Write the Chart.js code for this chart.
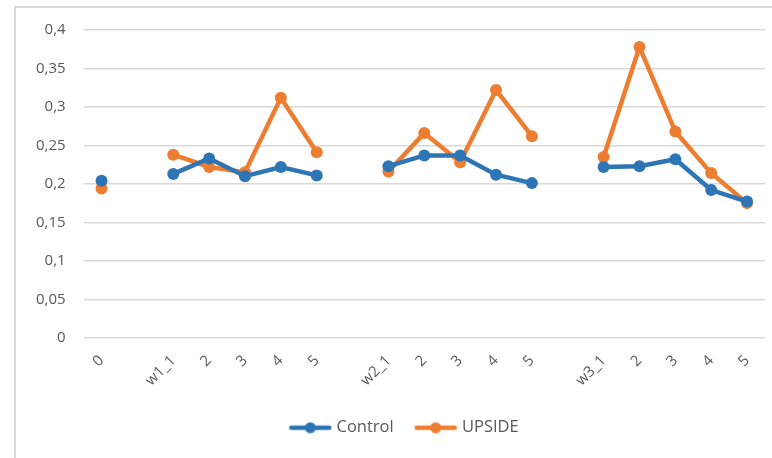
<!DOCTYPE html>
<html>
<head>
<meta charset="utf-8">
<script src="https://cdn.jsdelivr.net/npm/chart.js@4"></script>
<style>
  html, body { margin: 0; padding: 0; background: #fff; overflow: hidden; }
  #wrap { position: relative; width: 772px; height: 458px; }
  #frame { position: absolute; left: 14px; top: 6px; width: 800px; height: 500px;
           border: 2px solid #d9d9d9; box-sizing: border-box; }
  canvas { position: absolute; left: 0; top: 0; }
</style>
</head>
<body>
<div id="wrap">
  <div id="frame"></div>
  <canvas id="c" width="772" height="458"></canvas>
</div>
<script>
// Session labels; empty slots separate the weekly groups
const categories = ['0', '', 'w1_1', '2', '3', '4', '5', '', 'w2_1', '2', '3', '4', '5', '', 'w3_1', '2', '3', '4', '5'];
const controlValues = [0.204, null, 0.213, 0.233, 0.210, 0.222, 0.211, null, 0.223, 0.237, 0.237, 0.212, 0.201, null, 0.222, 0.223, 0.232, 0.192, 0.177];
const upsideValues  = [0.194, null, 0.238, 0.222, 0.215, 0.312, 0.241, null, 0.216, 0.266, 0.228, 0.322, 0.262, null, 0.235, 0.378, 0.268, 0.214, 0.175];
const yTicks = [0, 0.05, 0.1, 0.15, 0.2, 0.25, 0.3, 0.35, 0.4];
const seriesNames = ['Control', 'UPSIDE'];

const BLUE = '#2E75B6';
const ORANGE = '#ED7D31';

// Legend swatch: a short thick line with a marker dot in the middle
function swatch(color) {
  const c = document.createElement('canvas');
  c.width = 44; c.height = 14;
  const g = c.getContext('2d');
  g.strokeStyle = color; g.lineWidth = 4.5; g.lineCap = 'round';
  g.beginPath(); g.moveTo(3, 7); g.lineTo(41, 7); g.stroke();
  g.fillStyle = color;
  g.beginPath(); g.arc(22, 7, 5.5, 0, Math.PI * 2); g.fill();
  return c;
}
const swatches = [swatch(BLUE), swatch(ORANGE)];

const fmt = v => String(v).replace('.', ',');

function series(name, values, color) {
  return {
    label: name, data: values, borderColor: color, backgroundColor: color,
    borderWidth: 4.5, pointRadius: 6, pointHoverRadius: 6,
    pointBackgroundColor: color, pointBorderWidth: 0, pointStyle: 'circle', tension: 0
  };
}

// Nudge the legend a little to the right of the canvas centre
const LEGEND_NUDGE = 14;
const legendNudge = {
  id: 'legendNudge',
  afterLayout(chart) {
    chart.legend.left += LEGEND_NUDGE;
    chart.legend.right += LEGEND_NUDGE;
  }
};

new Chart(document.getElementById('c'), {
  type: 'line',
  data: {
    labels: categories,
    datasets: [
      series(seriesNames[0], controlValues, BLUE),
      series(seriesNames[1], upsideValues, ORANGE)
    ]
  },
  plugins: [legendNudge],
  options: {
    responsive: false,
    animation: false,
    spanGaps: false,
    layout: { padding: { left: 18, right: 7, top: 30, bottom: 12 } },
    plugins: {
      tooltip: { enabled: false },
      legend: {
        position: 'bottom',
        labels: {
          usePointStyle: true,
          pointStyleWidth: 36,
          boxHeight: 14,
          color: '#595959',
          font: { family: 'Open Sans', size: 16.5 },
          padding: 24,
          generateLabels: chart => chart.data.datasets.map((ds, i) => ({
            text: ds.label,
            fontColor: '#595959',
            pointStyle: swatches[i],
            datasetIndex: i,
            hidden: false,
            lineWidth: 0
          }))
        }
      }
    },
    scales: {
      x: {
        offset: true,
        grid: { display: false },
        border: { display: false },
        ticks: {
          color: '#595959',
          font: { family: 'Open Sans', size: 15 },
          minRotation: 45, maxRotation: 45,
          autoSkip: false,
          padding: 6
        }
      },
      y: {
        min: 0, max: 0.4,
        afterBuildTicks: axis => { axis.ticks = yTicks.map(v => ({ value: v })); },
        grid: { color: '#d9d9d9', lineWidth: 1.5, drawTicks: false },
        border: { display: false },
        ticks: {
          color: '#595959',
          font: { family: 'Open Sans', size: 15 },
          padding: 18,
          callback: v => fmt(v)
        }
      }
    }
  }
});
</script>
</body>
</html>
